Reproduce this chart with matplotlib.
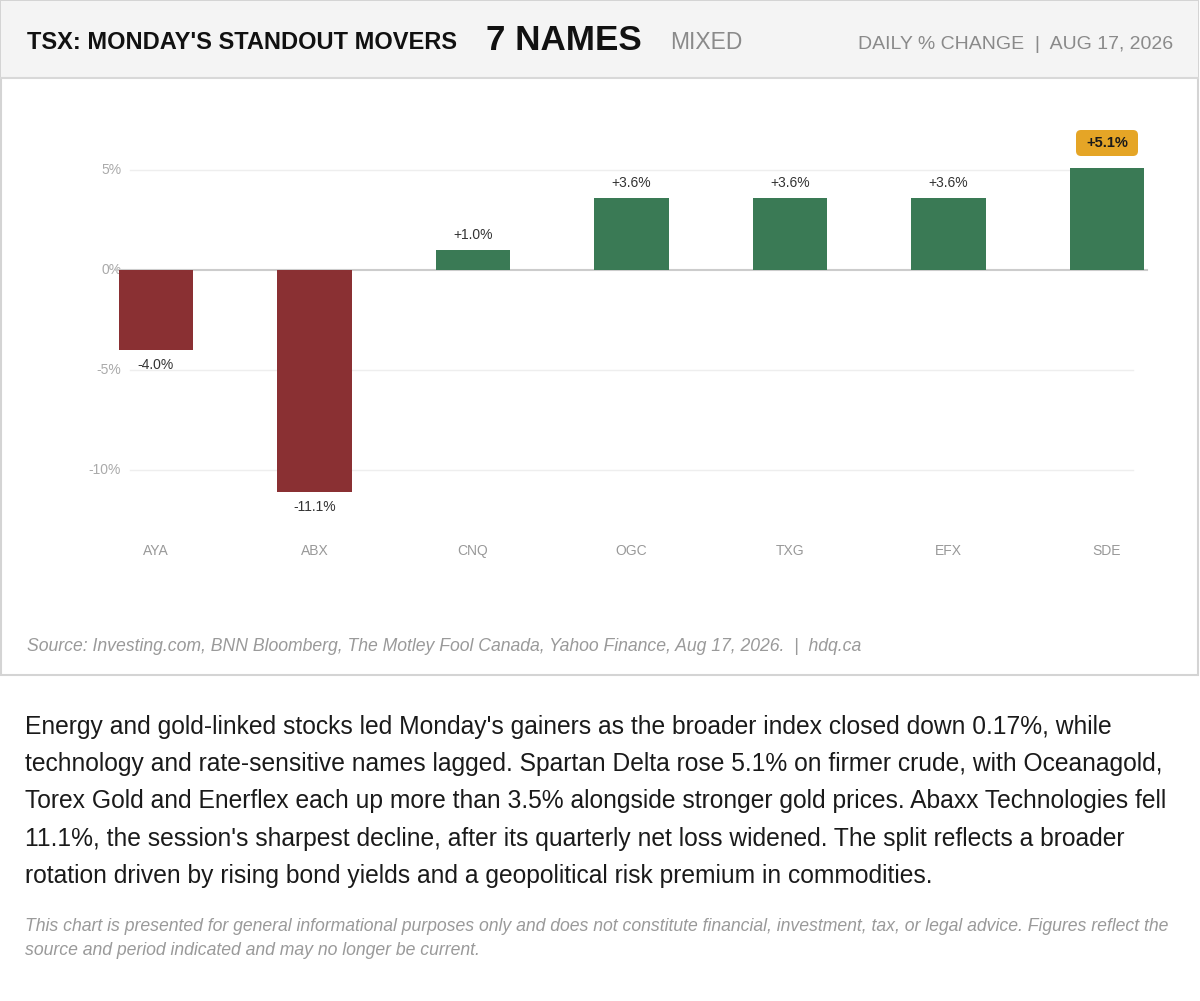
import numpy as np
import matplotlib
matplotlib.use('Agg')
from matplotlib import pyplot as plt
from matplotlib import patches as mpatches
from matplotlib import transforms as mtransforms

plt.rcParams['font.family'] = ['Liberation Sans', 'DejaVu Sans']

tickers = ['AYA', 'ABX', 'CNQ', 'OGC', 'TXG', 'EFX', 'SDE']
changes = [-4.0, -11.1, 1.0, 3.6, 3.6, 3.6, 5.1]
y_ticks = [5, 0, -5, -10]
y_tick_labels = ['5%', '0%', '-5%', '-10%']

title = "TSX: MONDAY'S STANDOUT MOVERS"
count_text = '7 NAMES'
tone_text = 'MIXED'
right_text = 'DAILY % CHANGE  |  AUG 17, 2026'
source_text = ('Source: Investing.com, BNN Bloomberg, The Motley Fool Canada, '
               'Yahoo Finance, Aug 17, 2026.  |  hdq.ca')
body_lines = [
    "Energy and gold-linked stocks led Monday's gainers as the broader index closed down 0.17%, while",
    "technology and rate-sensitive names lagged. Spartan Delta rose 5.1% on firmer crude, with Oceanagold,",
    "Torex Gold and Enerflex each up more than 3.5% alongside stronger gold prices. Abaxx Technologies fell",
    "11.1%, the session's sharpest decline, after its quarterly net loss widened. The split reflects a broader",
    "rotation driven by rising bond yields and a geopolitical risk premium in commodities.",
]
disclaimer_lines = [
    "This chart is presented for general informational purposes only and does not constitute financial, "
    "investment, tax, or legal advice. Figures reflect the",
    "source and period indicated and may no longer be current.",
]

W, H = 1200, 1001
RED = '#8a3033'
GREEN = '#3a7a55'
BADGE = '#e5a526'


def fx(px):
    return px / W


def fy(py):
    return 1 - py / H


fig = plt.figure(figsize=(W / 100, H / 100), dpi=100)
fig.patch.set_facecolor('white')

# card + header band
fig.patches.append(mpatches.Rectangle((fx(1), fy(675)), fx(1197), 674 / H, transform=fig.transFigure,
                                      facecolor='white', edgecolor='#d4d4d4', lw=1.5, zorder=-3))
fig.patches.append(mpatches.Rectangle((fx(1), fy(78)), fx(1197), 77 / H, transform=fig.transFigure,
                                      facecolor='#f4f4f4', edgecolor='none', zorder=-2))
fig.lines.append(plt.Line2D([fx(1), fx(1198)], [fy(78), fy(78)], transform=fig.transFigure,
                            color='#d8d8d8', lw=1.5, zorder=-1))

fig.text(fx(27), fy(49), title, fontsize=17, fontweight='bold', color='#111111', va='baseline')
fig.text(fx(486), fy(50), count_text, fontsize=25.2, fontweight='bold', color='#111111', va='baseline')
fig.text(fx(670), fy(49), tone_text, fontsize=16.5, color='#8a8a8a', va='baseline')
fig.text(fx(1173), fy(49), right_text, fontsize=14, color='#8a8a8a', va='baseline', ha='right')

# chart
ax = fig.add_axes([fx(76.75), fy(570), 1109.5 / W, 470 / H])
ax.set_xlim(-0.5, 6.5)
ax.set_ylim(-15, 8.5)
ax.axis('off')

x = np.arange(len(tickers))
for v in y_ticks:
    if v == 0:
        ax.plot([-0.25, 6.25], [0, 0], color='#cccccc', lw=1.5, zorder=3)
    else:
        ax.plot([-0.164, 6.164], [v, v], color='#eeeeee', lw=1, zorder=1)
for v, lab in zip(y_ticks, y_tick_labels):
    ax.text(-0.22, v, lab, ha='right', va='center', fontsize=10, color='#aaaaaa', zorder=2)

colors = [GREEN if c >= 0 else RED for c in changes]
ax.bar(x, changes, width=0.467, color=colors, zorder=4)

top = int(np.argmax(changes))
for i, c in enumerate(changes):
    lab = f'{c:+.1f}%'
    if i == top:
        trans = mtransforms.Affine2D() + mtransforms.ScaledTranslation(i, c, ax.transData)
        box = mpatches.FancyBboxPatch((-31, 12), 62, 26, boxstyle='round,pad=0,rounding_size=5',
                                      facecolor=BADGE, edgecolor='none', transform=trans, zorder=5)
        ax.add_patch(box)
        ax.text(0, 25, lab, transform=trans, ha='center', va='center', fontsize=10.5,
                fontweight='bold', color='#1a1a1a', zorder=6)
    elif c >= 0:
        ax.annotate(lab, (i, c), xytext=(0, 15), textcoords='offset pixels', ha='center', va='center',
                    fontsize=10, color='#333333')
    else:
        ax.annotate(lab, (i, c), xytext=(0, -15), textcoords='offset pixels', ha='center', va='center',
                    fontsize=10, color='#333333')

for i, t in enumerate(tickers):
    ax.text(i, -14.05, t, ha='center', va='center', fontsize=10, color='#999999')

fig.text(fx(27), fy(651), source_text, fontsize=12.7, style='italic', color='#9a9a9a', va='baseline')

for k, line in enumerate(body_lines):
    fig.text(fx(25), fy(734 + 37.2 * k), line, fontsize=17.7, color='#1a1a1a', va='baseline')

for k, line in enumerate(disclaimer_lines):
    fig.text(fx(25), fy(931 + 24 * k), line, fontsize=12.7, style='italic', color='#9a9a9a', va='baseline')

fig.savefig('out.png', dpi=100)
